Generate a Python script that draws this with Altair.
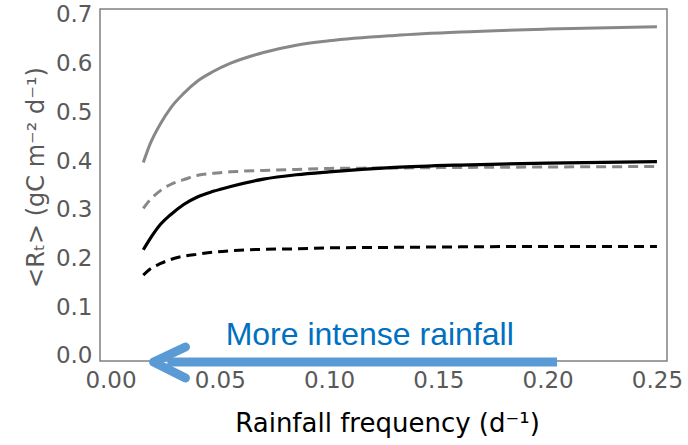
import altair as alt
import pandas as pd

# Data
freq = [0.015, 0.018, 0.023, 0.0275, 0.0335, 0.04, 0.047, 0.055, 0.07, 0.085, 0.1, 0.13, 0.16, 0.2, 0.25]
gray_solid = [0.397, 0.434, 0.478, 0.509, 0.539, 0.565, 0.584, 0.601, 0.623, 0.638, 0.647, 0.658, 0.665, 0.671, 0.676]
gray_dashed = [0.303, 0.320, 0.340, 0.352, 0.362, 0.371, 0.375, 0.378, 0.381, 0.383, 0.385, 0.386, 0.387, 0.388, 0.389]
black_solid = [0.218, 0.240, 0.271, 0.290, 0.311, 0.327, 0.338, 0.348, 0.363, 0.372, 0.378, 0.387, 0.392, 0.396, 0.399]
black_dashed = [0.166, 0.178, 0.190, 0.198, 0.205, 0.209, 0.213, 0.216, 0.219, 0.220, 0.222, 0.223, 0.224, 0.225, 0.225]

x_ticks = [0.0, 0.05, 0.10, 0.15, 0.20, 0.25]
y_ticks = [0.0, 0.1, 0.2, 0.3, 0.4, 0.5, 0.6, 0.7]

# Arrow annotation (data coordinates)
arrow_shaft_x = [0.2043, 0.026]
arrow_shaft_y = [-0.0123, -0.0123]
arrow_head_x = [0.0343, 0.0197, 0.0343]
arrow_head_y = [0.0185, -0.0123, -0.0452]
label_text = ["More intense rainfall"]
label_x = [0.1186]
label_y = [0.0226]

X_DOMAIN = [-0.0048, 0.2546]
Y_DOMAIN = [-0.0103, 0.7123]

xs = alt.Scale(domain=X_DOMAIN, nice=False, zero=False)
ys = alt.Scale(domain=Y_DOMAIN, nice=False, zero=False)

x_axis = alt.Axis(values=x_ticks, format=".2f", title="Rainfall frequency (d⁻¹)",
                  labelFontSize=23, labelColor="#595959", labelFont="DejaVu Sans",
                  labelPadding=8, titleFontSize=26, titleColor="#000000",
                  titleFont="DejaVu Sans", titleFontWeight="normal",
                  titleX=287, titleY=70, titleBaseline="alphabetic", titleAlign="center",
                  ticks=False, domain=False, grid=False)
y_axis = alt.Axis(values=y_ticks, format=".1f", title="<Rₜ> (gC m⁻² d⁻¹)",
                  labelFontSize=23, labelColor="#595959", labelFont="DejaVu Sans",
                  labelPadding=8, titleFontSize=24, titleColor="#595959",
                  titleFont="DejaVu Sans", titleFontWeight="normal",
                  titleX=-64, titleY=168, titleBaseline="middle", titleAlign="center",
                  titleAngle=270,
                  ticks=False, domain=False, grid=False)

df = pd.DataFrame({"freq": freq, "gs": gray_solid, "gd": gray_dashed,
                   "bs": black_solid, "bd": black_dashed})


def series(col, color, width, dash=None):
    kw = dict(color=color, strokeWidth=width, interpolate="monotone")
    if dash:
        kw["strokeDash"] = dash
    return alt.Chart(df).mark_line(**kw).encode(
        x=alt.X("freq:Q", scale=xs, axis=x_axis),
        y=alt.Y(f"{col}:Q", scale=ys, axis=y_axis),
    )


shaft_df = pd.DataFrame({"x": arrow_shaft_x, "y": arrow_shaft_y, "o": [0, 1]})
head_df = pd.DataFrame({"x": arrow_head_x, "y": arrow_head_y, "o": [0, 1, 2]})
text_df = pd.DataFrame({"x": label_x, "y": label_y, "t": label_text})

shaft = alt.Chart(shaft_df).mark_line(color="#5B9BD5", strokeWidth=9, strokeCap="butt").encode(
    x=alt.X("x:Q", scale=xs, axis=x_axis), y=alt.Y("y:Q", scale=ys, axis=y_axis), order="o:Q")
head = alt.Chart(head_df).mark_line(color="#5B9BD5", strokeWidth=9, strokeCap="round",
                                    strokeJoin="round").encode(
    x=alt.X("x:Q", scale=xs, axis=x_axis), y=alt.Y("y:Q", scale=ys, axis=y_axis), order="o:Q")
label = alt.Chart(text_df).mark_text(color="#0070C0", fontSize=32, font="Liberation Sans",
                                     align="center", baseline="alphabetic").encode(
    x=alt.X("x:Q", scale=xs, axis=x_axis), y=alt.Y("y:Q", scale=ys, axis=y_axis), text="t:N")

chart = alt.layer(
    series("gs", "#888888", 3),
    series("gd", "#888888", 3, dash=[10, 6]),
    series("bs", "#000000", 3.2),
    series("bd", "#000000", 3, dash=[10, 6]),
    shaft, head, label,
).properties(
    width=567, height=352,
    autosize=alt.AutoSizeParams(type="none"),
    padding={"left": 100, "top": 9, "right": 21, "bottom": 84},
).configure_view(
    stroke="#808080", strokeWidth=1.5
)

chart.save("out.html", embed_options={"renderer": "svg", "actions": False})
